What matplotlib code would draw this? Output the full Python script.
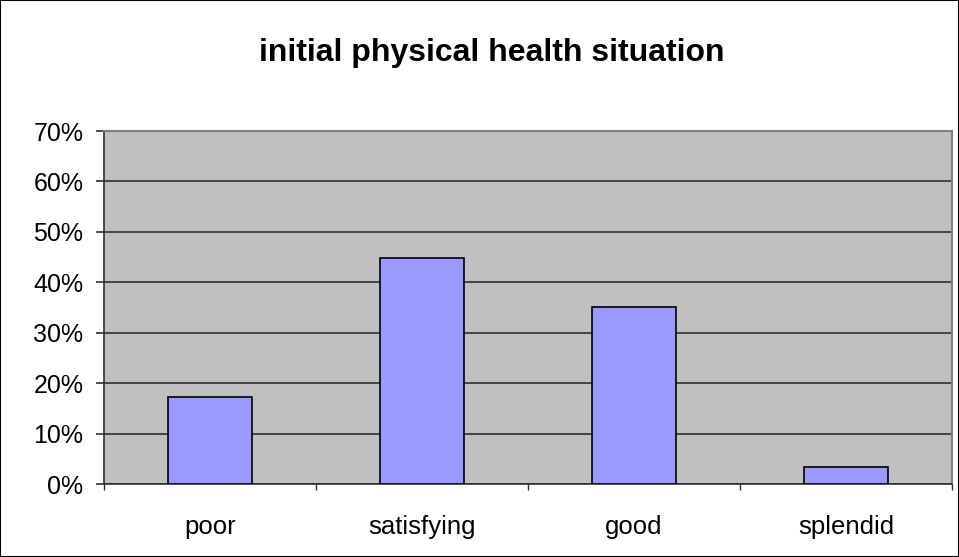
import numpy as np
import matplotlib.pyplot as plt
from matplotlib.patches import Rectangle

categories = ['poor', 'satisfying', 'good', 'splendid']
values = [17.2, 44.9, 35.1, 3.3]
y_ticks = [0, 10, 20, 30, 40, 50, 60, 70]

plt.rcParams['font.family'] = ['Liberation Sans', 'DejaVu Sans']

fig = plt.figure(figsize=(9.59, 5.57), dpi=100)
fig.patches.append(Rectangle((0, 0), 1, 1, transform=fig.transFigure, fill=False,
                             edgecolor='black', linewidth=1.5))
ax = fig.add_axes([104 / 959, 73 / 557, 848 / 959, 353 / 557])
ax.set_facecolor('#C0C0C0')

x = np.arange(len(categories))
ax.bar(x, values, width=0.4, color='#9999FF', edgecolor='black', linewidth=1.2, zorder=3)

ax.set_xlim(-0.5, len(categories) - 0.5)
ax.set_ylim(0, 70)
ax.set_yticks(y_ticks)
ax.set_yticklabels([f'{t}%' for t in y_ticks])
ax.yaxis.grid(True, color='#303030', linewidth=1.2, zorder=1)

ax.set_xticks(x)
ax.set_xticklabels(categories)
ax.set_xticks(np.arange(len(categories) + 1) - 0.5, minor=True)
ax.tick_params(axis='x', which='major', length=0, pad=22, labelsize=18.5)
ax.tick_params(axis='x', which='minor', length=4.5, width=1, color='#303030', direction='out')
ax.tick_params(axis='y', length=5.8, width=1.2, color='#303030', labelsize=18, pad=9)

for side in ['top', 'right']:
    ax.spines[side].set_color('#808080')
    ax.spines[side].set_linewidth(1.5)
for side in ['left', 'bottom']:
    ax.spines[side].set_color('#303030')
    ax.spines[side].set_linewidth(1.2)

fig.text(0.513, 0.905, 'initial physical health situation', ha='center', va='center',
         fontsize=23, fontweight='bold')

fig.savefig('out.png', dpi=100)
